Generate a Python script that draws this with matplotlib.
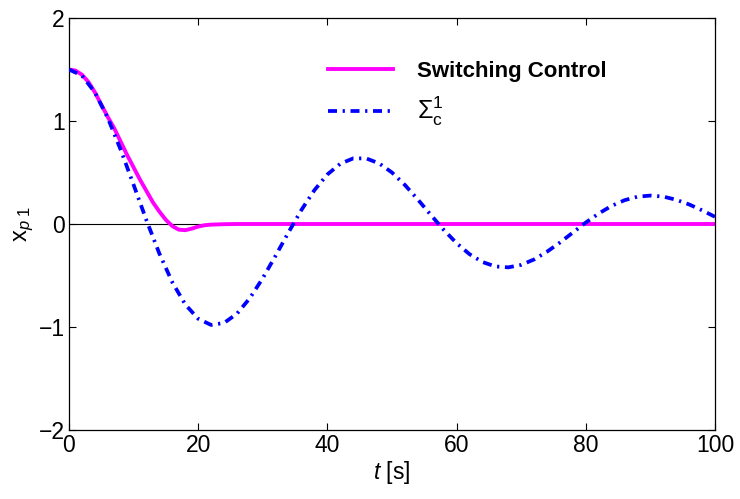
import numpy as np
import matplotlib.pyplot as plt

plt.rcParams['font.family'] = ['Liberation Sans', 'DejaVu Sans']
plt.rcParams['mathtext.fontset'] = 'custom'
plt.rcParams['mathtext.rm'] = 'Liberation Sans'
plt.rcParams['mathtext.it'] = 'Liberation Sans:italic'
plt.rcParams['mathtext.bf'] = 'Liberation Sans:bold'

# values
t_sigma = [0, 2, 4, 6, 8, 10, 12, 14, 16, 18, 20, 22, 24, 26, 28, 30, 32, 34,
           36, 38, 40, 42, 44, 46, 48, 50, 52, 54, 56, 58, 60, 62, 64, 66, 68,
           70, 72, 74, 76, 78, 80, 82, 84, 86, 88, 90, 92, 94, 96, 98, 100]
x_sigma = [1.50, 1.442, 1.279, 1.031, 0.722, 0.381, 0.035, -0.288, -0.566,
           -0.781, -0.920, -0.980, -0.961, -0.871, -0.720, -0.526, -0.306,
           -0.079, 0.138, 0.329, 0.481, 0.585, 0.637, 0.637, 0.589, 0.500,
           0.379, 0.238, 0.089, -0.056, -0.186, -0.293, -0.369, -0.412,
           -0.421, -0.397, -0.344, -0.269, -0.180, -0.083, 0.014, 0.102,
           0.176, 0.231, 0.265, 0.276, 0.266, 0.235, 0.190, 0.133, 0.070]

t_switch = [0, 1, 2, 3, 4, 5, 6, 7, 8, 9, 10, 11, 12, 13, 14, 15, 16, 17, 18,
            19, 20, 21, 22, 24, 26, 30, 40, 60, 80, 100]
x_switch = [1.50, 1.49, 1.45, 1.38, 1.28, 1.16, 1.04, 0.93, 0.80, 0.67, 0.55,
            0.43, 0.32, 0.21, 0.12, 0.04, -0.02, -0.055, -0.06, -0.045,
            -0.025, -0.012, -0.006, -0.002, 0.0, 0.0, 0.0, 0.0, 0.0, 0.0]

fig = plt.figure(figsize=(7.4, 4.99), dpi=100)
ax = fig.add_axes([0.0932, 0.1383, 0.873, 0.8256])

ax.axhline(0, color='black', linewidth=0.8, zorder=1)
ax.plot(t_switch, x_switch, color='#ff00ff', linewidth=2.8,
        label='Switching Control', zorder=2)
ax.plot(t_sigma, x_sigma, color='#0000ff', linewidth=2.7,
        dashes=(2.4, 1.5, 0.6, 1.5), label=r'$\Sigma_{\mathrm{c}}^{1}$', zorder=3)

ax.set_xlim(0, 100)
ax.set_ylim(-2, 2)
ax.set_xticks([0, 20, 40, 60, 80, 100])
ax.set_yticks([-2, -1, 0, 1, 2])
ax.tick_params(direction='in', length=5, width=0.8, labelsize=16.5,
               top=True, right=True, pad=3)
for s in ax.spines.values():
    s.set_linewidth(0.9)

ax.set_xlabel(r'$t$ [s]', fontsize=16.5, labelpad=1)
ax.set_ylabel(r'$\mathrm{x}_{p\ 1}$', fontsize=17, labelpad=2)

leg = ax.legend(loc='upper left', bbox_to_anchor=(0.374, 0.94), frameon=False,
                fontsize=16, handlelength=2.9, handletextpad=1.1,
                labelspacing=0.6, borderpad=0.3)
leg.get_texts()[0].set_fontweight('bold')
leg.get_texts()[1].set_fontsize(18)

fig.savefig('out.png', dpi=100)
